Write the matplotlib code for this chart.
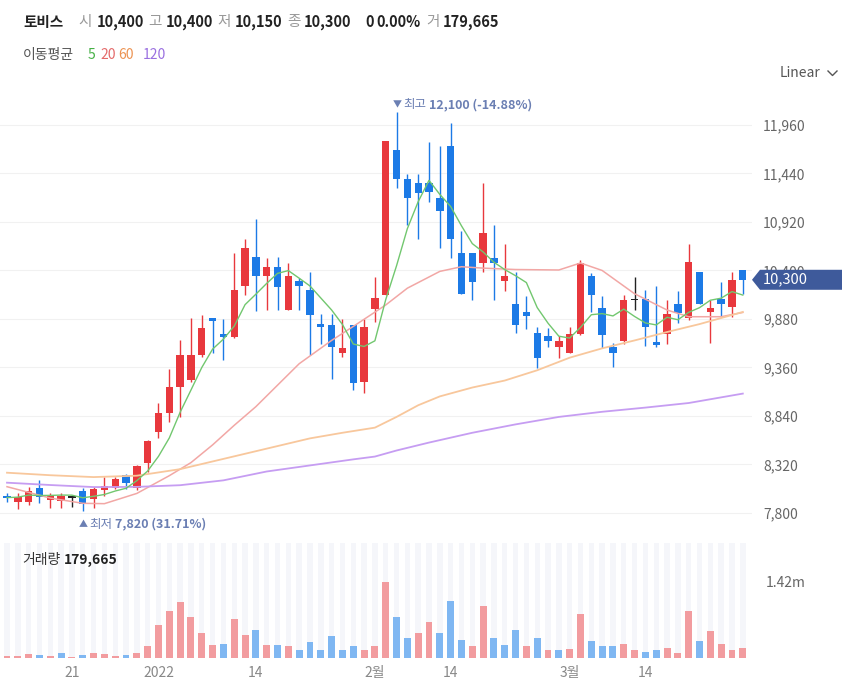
import matplotlib
matplotlib.use('Agg')
import matplotlib.pyplot as plt
import numpy as np
import pandas as pd
from matplotlib.patches import Polygon
from matplotlib.lines import Line2D
from matplotlib.transforms import blended_transform_factory

plt.rcParams['font.family'] = ['Noto Sans CJK KR', 'DejaVu Sans']

# ---------------- data ----------------
dates = (['12-13', '12-14', '12-15', '12-16', '12-17', '12-20', '12-21', '12-22', '12-23', '12-24',
          '12-27', '12-28', '12-29', '12-30',
          '01-03', '01-04', '01-05', '01-06', '01-07', '01-10', '01-11', '01-12', '01-13', '01-14',
          '01-17', '01-18', '01-19', '01-20', '01-21', '01-24', '01-25', '01-26', '01-27', '01-28',
          '02-03', '02-04', '02-07', '02-08', '02-09', '02-10', '02-11', '02-14', '02-15', '02-16',
          '02-17', '02-18', '02-21', '02-22', '02-23', '02-24', '02-25', '02-28',
          '03-02', '03-03', '03-04', '03-07', '03-08', '03-10', '03-11', '03-14', '03-15', '03-16',
          '03-17', '03-18', '03-21', '03-22', '03-23', '03-24', '03-25'])

opens = [7975, 7921, 7921, 8065, 7940, 7932, 7970, 8036, 7947, 8047,
         8065, 8211, 8065, 8333, 8665, 8869, 9154, 9226, 9494, 9887,
         9715, 9683, 10237, 10541, 10341, 10441, 9976, 10287, 10191, 9826,
         9815, 9519, 9815, 9208, 9984, 10137, 11691, 11380, 11341, 11341,
         11180, 11734, 10591, 10591, 10484, 10537, 10287, 10040, 9958, 9733,
         9697, 9583, 9519, 9715, 10341, 9994, 9583, 9647, 10090, 10090,
         9637, 9719, 10040, 9887, 10387, 9950, 10090, 10005, 10400]
highs = [8015, 8018, 8075, 8154, 8018, 8011, 7972, 8065, 8075, 8189,
         8189, 8218, 8315, 8583, 8982, 9340, 9655, 9894, 9923, 9887,
         9876, 10584, 10734, 10950, 10530, 10548, 10477, 10322, 10387, 9933,
         9933, 9876, 9815, 9876, 10333, 11791, 12100, 11434, 11434, 11780,
         11734, 11977, 10827, 10591, 11334, 10887, 10684, 10380, 10126, 9797,
         9780, 9697, 9797, 10509, 10370, 10126, 9626, 10137, 10333, 10191,
         10233, 10083, 10183, 10684, 10387, 10083, 10280, 10380, 10400]
lows = [7921, 7840, 7886, 7904, 7857, 7850, 7861, 7820, 7857, 7982,
        8054, 8054, 8047, 8243, 8601, 8779, 8832, 9208, 9476, 9512,
        9440, 9672, 10137, 9965, 9976, 9976, 9976, 9976, 9494, 9612,
        9233, 9476, 9119, 9083, 9851, 10137, 11281, 10887, 10734, 11137,
        10637, 10537, 10144, 10083, 10387, 10083, 10180, 9733, 9769, 9358,
        9576, 9458, 9519, 9705, 9958, 9565, 9368, 9612, 9976, 9590,
        9576, 9612, 9840, 9869, 10040, 9626, 9898, 9904, 10150]
closes = [7965, 7975, 8036, 7975, 7993, 7982, 7970, 7896, 8054, 8090,
          8168, 8118, 8304, 8572, 8875, 9154, 9494, 9494, 9780, 9862,
          9690, 10191, 10644, 10341, 10441, 10226, 10341, 10237, 9923, 9797,
          9583, 9565, 9190, 9790, 10101, 11791, 11380, 11180, 11234, 11244,
          11037, 10734, 10144, 10280, 10798, 10484, 10341, 9815, 9912, 9458,
          9647, 9644, 9715, 10484, 10137, 9708, 9519, 10080, 10090, 9790,
          9601, 9930, 9947, 10487, 10040, 10000, 10040, 10300, 10300]
volumes = [32000, 32000, 76000, 50000, 32000, 101000, 13000, 50000, 101000, 76000,
           32000, 50000, 101000, 215000, 625000, 884000, 1048000, 764000, 461000, 246000,
           265000, 738000, 435000, 530000, 246000, 240000, 215000, 145000, 290000, 145000,
           404000, 145000, 215000, 145000, 215000, 1420000, 757000, 379000, 473000, 669000,
           473000, 1067000, 334000, 215000, 978000, 379000, 240000, 524000, 215000, 379000,
           145000, 145000, 170000, 814000, 309000, 215000, 215000, 265000, 145000, 120000,
           145000, 189000, 101000, 884000, 309000, 499000, 265000, 145000, 179665]
vol_up = [1, 1, 1, 0, 1, 0, 1, 0, 1, 1,
          1, 0, 1, 1, 1, 1, 1, 1, 1, 1,
          0, 1, 1, 0, 1, 0, 1, 0, 0, 0,
          0, 0, 0, 1, 1, 1, 0, 0, 1, 1,
          0, 0, 0, 1, 1, 0, 0, 0, 1, 0,
          1, 0, 1, 1, 0, 0, 0, 1, 1, 0,
          0, 1, 1, 1, 0, 1, 1, 1, 1]

ma20_idx = [0, 4, 7, 9, 12, 15, 17, 19, 21, 23, 25, 27, 30, 32, 35, 37, 40, 42, 44, 47, 51, 53, 55, 58, 61, 63, 66, 68]
ma20_val = [8082, 7960, 7904, 7900, 8010, 8200, 8340, 8530, 8740, 8940, 9170, 9400, 9650, 9800, 10030, 10210,
            10390, 10440, 10425, 10410, 10405, 10480, 10400, 10150, 9976, 9904, 9904, 9950]
ma60_idx = [0, 4, 8, 12, 16, 20, 24, 28, 31, 34, 36, 38, 40, 43, 46, 49, 52, 55, 58, 61, 64, 68]
ma60_val = [8232, 8205, 8185, 8200, 8270, 8380, 8490, 8600, 8660, 8715, 8830, 8955, 9050, 9145, 9220, 9330,
            9465, 9565, 9650, 9740, 9825, 9955]
ma120_idx = [0, 4, 8, 12, 16, 20, 24, 28, 32, 34, 36, 39, 43, 47, 51, 55, 59, 63, 68]
ma120_val = [8125, 8100, 8078, 8080, 8098, 8150, 8245, 8310, 8375, 8405, 8470, 8555, 8660, 8750, 8830, 8885,
             8930, 8979, 9080]

price_ticks = [7800, 8320, 8840, 9360, 9880, 10400, 10920, 11440, 11960]
price_tick_labels = ['7,800', '8,320', '8,840', '9,360', '9,880', '10,400', '10,920', '11,440', '11,960']
x_tick_pos = [6, 14, 23, 34, 41, 52, 59]
x_tick_labels = ['21', '2022', '14', '2월', '14', '3월', '14']
vol_tick = [1420000]
vol_tick_label = ['1.42m']

# ---------------- styling ----------------
RED = '#e8383d'
BLUE = '#1c7ae6'
VRED = '#f29c9f'
VBLUE = '#7fb7f2'
C_MA5, C_MA20, C_MA60, C_MA120 = '#72c76f', '#f2a7a5', '#f8c79c', '#c69df2'

W, H = 842, 693
fig = plt.figure(figsize=(W / 100, H / 100), dpi=100)
fig.patch.set_facecolor('white')

def fx(px):
    return px / W

def fy(py):
    return 1 - py / H

AX_R = 752
ax = fig.add_axes([0, fy(540), fx(AX_R), (540 - 85) / H])
vax = fig.add_axes([0, fy(658), fx(AX_R), (658 - 543) / H])

n = len(opens)
idx = np.arange(n)
xlim = (-0.647, 68.85)

# price axis
ax.set_xlim(*xlim)
ax.set_ylim(7510.6, 12388)
for s in ax.spines.values():
    s.set_visible(False)
ax.set_xticks([])
ax.yaxis.tick_right()
ax.set_yticks(price_ticks)
ax.set_yticklabels(price_tick_labels)
ax.tick_params(axis='y', length=0, pad=8, labelsize=10, labelcolor='#666666')
for t in price_ticks:
    ax.axhline(t, color='#f1f1f1', lw=0.8, zorder=0)

o = np.array(opens, float); c = np.array(closes, float)
h = np.array(highs, float); l = np.array(lows, float)
cols = []
for oi, ci in zip(o, c):
    if ci > oi:
        cols.append(RED)
    elif ci < oi:
        cols.append(BLUE)
    else:
        cols.append('#222222')
ax.vlines(idx, l, h, colors=cols, lw=1.0, zorder=2)
bottoms = np.minimum(o, c)
heights = np.maximum(np.abs(c - o), 16)
bottoms = np.where(np.abs(c - o) < 16, (o + c) / 2 - 8, bottoms)
ax.bar(idx, heights, bottom=bottoms, width=0.68, color=cols, zorder=2, linewidth=0)

ma5 = pd.Series(closes, dtype=float).rolling(5, min_periods=1).mean()
ax.plot(ma20_idx, ma20_val, color=C_MA20, lw=1.1, zorder=3)
ax.plot(ma60_idx, ma60_val, color=C_MA60, lw=1.3, zorder=3)
ax.plot(ma120_idx, ma120_val, color=C_MA120, lw=1.3, zorder=3)
ax.plot(idx, ma5, color=C_MA5, lw=1.0, zorder=3)

# current price label box
bt = blended_transform_factory(ax.transAxes, ax.transData)
last = closes[-1]
hh = 10 * 10.72
poly = Polygon([(1.0, last), (760 / AX_R, last + hh), (842 / AX_R, last + hh),
                (842 / AX_R, last - hh), (760 / AX_R, last - hh)],
               closed=True, transform=bt, facecolor='#3e5a9b', edgecolor='none',
               clip_on=False, zorder=10)
ax.add_patch(poly)
ax.text(763 / AX_R, last, '10,300', transform=bt, color='white', fontsize=10.5,
        va='center', ha='left', zorder=11, clip_on=False)

# volume axis
vax.set_xlim(*xlim)
vax.set_ylim(0, 115 * 18684)
for s in vax.spines.values():
    s.set_visible(False)
vax.bar(idx, [115 * 18684] * n, width=0.5, color='#f5f6fa', zorder=0, linewidth=0)
vax.bar(idx, volumes, width=0.64, color=[VRED if u else VBLUE for u in vol_up], zorder=2, linewidth=0)
vax.yaxis.tick_right()
vax.set_yticks(vol_tick)
vax.set_yticklabels(vol_tick_label)
vax.tick_params(axis='y', length=0, pad=10, labelsize=10, labelcolor='#666666')
vax.set_xticks(x_tick_pos)
vax.set_xticklabels(x_tick_labels)
vax.tick_params(axis='x', length=0, pad=6, labelsize=10, labelcolor='#888888')

# ---------------- texts ----------------
fig.canvas.draw()
renderer = fig.canvas.get_renderer()

def flow(parts, x0, y0, gap=3):
    x = x0
    for s, kw in parts:
        t = fig.text(fx(x), fy(y0), s, va='center', ha='left', **kw)
        bb = t.get_window_extent(renderer)
        x += bb.width + gap

DARK = '#222222'
GRAY = '#999999'
hdr = [(23, '토비스', 'bold', DARK), (78, '시', 'normal', GRAY), (97, '10,400', 'bold', DARK),
       (148, '고', 'normal', GRAY), (166, '10,400', 'bold', DARK), (217, '저', 'normal', GRAY),
       (235, '10,150', 'bold', DARK), (287, '종', 'normal', GRAY), (304, '10,300', 'bold', DARK),
       (365, '0', 'bold', DARK), (376, '0.00%', 'bold', DARK), (426, '거', 'normal', GRAY),
       (443, '179,665', 'bold', DARK)]
for xp, s, wgt, colr in hdr:
    fig.text(fx(xp), fy(22), s, fontsize=10.5, fontweight=wgt, color=colr, va='center', ha='left')

leg = [(23, '이동평균', '#555555'), (88, '5', '#45b045'), (100, '20', '#e46a6a'),
       (118, '60', '#ec9352'), (143, '120', '#9a70e0')]
for xp, s, colr in leg:
    fig.text(fx(xp), fy(55), s, fontsize=10, color=colr, va='center', ha='left')

fig.text(fx(780), fy(73), 'Linear', fontsize=10, color='#555555', va='center', ha='left')
fig.add_artist(Line2D([fx(828), fx(832.5), fx(837)], [fy(71), fy(75.5), fy(71)],
                      color='#555555', lw=1.0, transform=fig.transFigure))

flow([('거래량', dict(fontsize=10, color='#333333')),
      ('179,665', dict(fontsize=10, color='#222222', fontweight='bold'))], 22, 560, gap=4)

ANN = '#6b7fb3'
# high / low annotations
ih = int(np.argmax(highs)); il = int(np.argmin(lows))
px_h = ax.transData.transform((ih, highs[ih]))
px_l = ax.transData.transform((il, lows[il]))
hx, hy = px_h[0], H - px_h[1]
lx, ly = px_l[0], H - px_l[1]
pct_h = (closes[-1] - highs[ih]) / highs[ih] * 100
pct_l = (closes[-1] - lows[il]) / lows[il] * 100
flow([('▼', dict(fontsize=6.5, color=ANN)), ('최고', dict(fontsize=9, color=ANN)),
      (f'{highs[ih]:,} ({pct_h:.2f}%)', dict(fontsize=9, color=ANN, fontweight='bold'))],
     hx - 4, hy - 7, gap=2)
flow([('▲', dict(fontsize=6.5, color=ANN)), ('최저', dict(fontsize=9, color=ANN)),
      (f'{lows[il]:,} ({pct_l:.2f}%)', dict(fontsize=9, color=ANN, fontweight='bold'))],
     lx - 4, ly + 13, gap=2)

fig.savefig('out.png', dpi=100, facecolor='white')
